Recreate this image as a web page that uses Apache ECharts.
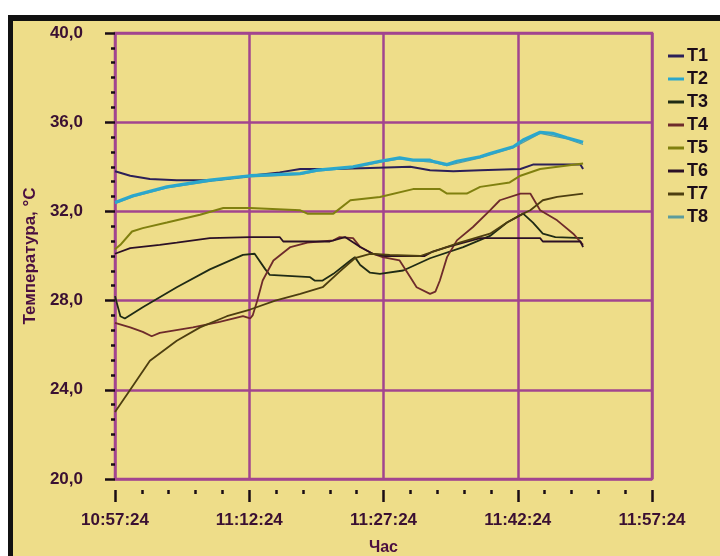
<!DOCTYPE html>
<html>
<head>
<meta charset="utf-8">
<script src="https://cdn.jsdelivr.net/npm/echarts@6/dist/echarts.min.js"></script>
<style>
html,body{margin:0;padding:0;background:#ffffff;}
#c{width:720px;height:556px;}
</style>
</head>
<body>
<div id="c"></div>
<script>
// time offsets are minutes after 10:57:24
const xTickLabels = ['10:57:24', '11:12:24', '11:27:24', '11:42:24', '11:57:24'];
const seriesNames = ['T1', 'T2', 'T3', 'T4', 'T5', 'T6', 'T7', 'T8'];

const T1 = [[0,33.8],[1.7,33.6],[3.9,33.45],[6.9,33.4],[10.6,33.4],[12.1,33.45],[15.1,33.6],[18.4,33.75],[20.7,33.9],[24.4,33.9],[28.5,33.95],[33.0,34.0],[35.2,33.85],[37.8,33.8],[40.8,33.85],[45.3,33.9],[46.7,34.1],[52.0,34.1],[52.3,33.9]];
const T2 = [[0,32.4],[2.0,32.7],[5.8,33.1],[10.6,33.4],[15.1,33.6],[20.7,33.7],[22.6,33.85],[26.6,34.0],[29.6,34.25],[31.8,34.4],[33.3,34.3],[35.2,34.3],[35.5,34.25],[37.1,34.1],[38.2,34.25],[40.8,34.45],[41.9,34.6],[44.5,34.9],[45.6,35.2],[47.5,35.55],[48.9,35.5],[50.5,35.3],[52.3,35.1]];
const T3 = [[0,28.2],[0.6,27.3],[1.1,27.2],[3.1,27.7],[6.9,28.6],[10.6,29.4],[14.3,30.05],[15.6,30.1],[16.8,29.4],[17.3,29.15],[21.8,29.05],[22.3,28.9],[23.2,28.9],[24.4,29.2],[26.3,29.8],[26.8,29.95],[27.4,29.6],[28.5,29.25],[29.6,29.2],[32.2,29.35],[35.2,29.9],[38.9,30.4],[41.9,30.9],[43.8,31.5],[45.6,31.9],[46.7,31.5],[47.8,31.0],[49.2,30.85],[52.3,30.8]];
const T4 = [[0,27.0],[1.7,26.8],[3.1,26.6],[4.1,26.4],[5.0,26.55],[8.7,26.8],[11.7,27.05],[14.3,27.3],[15.1,27.2],[15.4,27.35],[15.9,28.0],[16.5,28.9],[17.7,29.8],[19.6,30.4],[21.5,30.6],[24.4,30.7],[25.1,30.85],[26.6,30.8],[27.4,30.4],[28.8,30.1],[29.9,29.95],[31.8,29.8],[33.0,29.05],[33.7,28.6],[35.2,28.3],[35.8,28.4],[36.3,28.9],[37.1,29.95],[38.2,30.7],[40.0,31.3],[41.9,32.05],[43.0,32.5],[45.3,32.8],[46.4,32.8],[47.5,32.05],[49.4,31.6],[51.2,31.0],[52.3,30.5]];
const T5 = [[0,30.3],[0.6,30.5],[1.9,31.1],[3.1,31.25],[5.8,31.5],[9.5,31.85],[12.1,32.15],[15.1,32.15],[20.7,32.05],[21.5,31.9],[24.4,31.9],[26.3,32.5],[29.6,32.65],[33.3,33.0],[36.3,33.0],[37.1,32.8],[39.3,32.8],[40.8,33.1],[44.1,33.3],[45.3,33.6],[47.5,33.9],[52.3,34.15]];
const T6 = [[0,30.1],[1.7,30.35],[5.0,30.5],[6.9,30.6],[10.6,30.8],[15.1,30.85],[18.4,30.85],[18.8,30.65],[24.0,30.65],[25.7,30.85],[27.4,30.4],[28.8,30.1],[30.2,30.0],[34.6,30.0],[35.5,30.2],[37.1,30.4],[40.8,30.8],[47.5,30.8],[47.8,30.65],[52.0,30.65],[52.3,30.4]];
const T7 = [[0,23.0],[1.7,24.0],[3.9,25.3],[6.9,26.2],[9.5,26.8],[12.5,27.3],[15.1,27.6],[17.9,28.0],[20.7,28.3],[23.2,28.6],[25.1,29.3],[26.8,29.9],[28.5,30.1],[30.7,30.05],[34.1,30.0],[36.3,30.3],[38.5,30.6],[41.9,31.0],[43.8,31.5],[45.6,31.9],[46.4,32.05],[47.8,32.5],[49.4,32.65],[52.3,32.8]];
const T8 = [[0,32.35],[2.0,32.65],[5.8,33.05],[10.6,33.35],[15.1,33.55],[20.7,33.65],[22.6,33.8],[26.6,33.95],[29.6,34.2],[31.8,34.35],[35.5,34.2],[37.1,34.05],[40.8,34.4],[44.5,34.85],[47.5,35.5],[50.5,35.25],[52.3,35.0]];

const seriesData = [T1, T2, T3, T4, T5, T6, T7, T8];
const seriesColors = ['#2c2058', '#2ba7cc', '#1f2b15', '#6e2b2b', '#80800f', '#2b1026', '#4d3e10', '#5c9c9c'];
const seriesWidths = [2, 3.2, 1.8, 1.8, 2, 1.8, 1.8, 1.2];

const FONT = '"Liberation Sans", Arial, sans-serif';
const TXT = '#3a1032';
const GRID = '#a2458f';

const chart = echarts.init(document.getElementById('c'));
const drawOrder = [7, 0, 1, 2, 3, 4, 5, 6];

chart.setOption({
  backgroundColor: '#eedd89',
  animation: false,
  graphic: [
    { type: 'rect', shape: { x: 0, y: 0, width: 720, height: 15 }, style: { fill: '#ffffff' }, silent: true, z: -10 },
    { type: 'rect', shape: { x: 0, y: 0, width: 8, height: 556 }, style: { fill: '#ffffff' }, silent: true, z: -10 },
    { type: 'rect', shape: { x: 8, y: 15, width: 712, height: 6 }, style: { fill: '#111111' }, silent: true, z: -9 },
    { type: 'rect', shape: { x: 8, y: 15, width: 5, height: 541 }, style: { fill: '#111111' }, silent: true, z: -9 }
  ],
  grid: {
    left: 115, right: 68, top: 33, bottom: 77,
    outerBoundsMode: 'none',
    containLabel: false,
    show: true, borderColor: GRID, borderWidth: 2.5, backgroundColor: 'transparent'
  },
  legend: {
    orient: 'vertical',
    left: 663, top: 42,
    itemWidth: 16, itemHeight: 3, itemGap: 5,
    icon: 'rect',
    data: seriesNames,
    textStyle: { fontFamily: FONT, fontWeight: 'bold', fontSize: 18, color: '#1c0c18', padding: [0, 0, 0, -2] }
  },
  xAxis: {
    type: 'value', min: 0, max: 60, interval: 15,
    offset: 11,
    name: 'Час', nameLocation: 'middle', nameGap: 50,
    nameTextStyle: { fontFamily: FONT, fontWeight: 'bold', fontSize: 16, color: '#4a0f40' },
    axisLine: { show: false },
    axisTick: { show: true, length: 12, lineStyle: { color: '#1a0c14', width: 2.5 } },
    minorTick: { show: true, splitNumber: 5, length: 4, lineStyle: { color: '#1a0c14', width: 2.5 } },
    axisLabel: {
      margin: 22, fontFamily: FONT, fontWeight: 'bold', fontSize: 17, color: TXT,
      formatter: v => xTickLabels[Math.round(v / 15)]
    },
    splitLine: { show: true, lineStyle: { color: GRID, width: 2.5 } }
  },
  yAxis: {
    type: 'value', min: 20, max: 40, interval: 4,
    offset: 12,
    name: 'Температура, °С', nameLocation: 'middle', nameGap: 64, nameRotate: 90,
    nameTextStyle: { fontFamily: FONT, fontWeight: 'bold', fontSize: 17, color: '#4a0f40' },
    axisLine: { show: false },
    axisTick: { show: true, length: 10, lineStyle: { color: '#1a0c14', width: 2.5 } },
    minorTick: { show: true, splitNumber: 6, length: 4, lineStyle: { color: '#1a0c14', width: 2.5 } },
    axisLabel: {
      margin: 20, fontFamily: FONT, fontWeight: 'bold', fontSize: 17, color: TXT,
      formatter: v => v.toFixed(1).replace('.', ',')
    },
    splitLine: { show: true, lineStyle: { color: GRID, width: 2.5 } }
  },
  series: seriesNames.map((n, i) => ({
    name: n,
    type: 'line',
    data: seriesData[i],
    showSymbol: false,
    symbol: 'none',
    color: seriesColors[i],
    z: 2 + drawOrder.indexOf(i),
    lineStyle: { color: seriesColors[i], width: seriesWidths[i] }
  }))
});
</script>
</body>
</html>
